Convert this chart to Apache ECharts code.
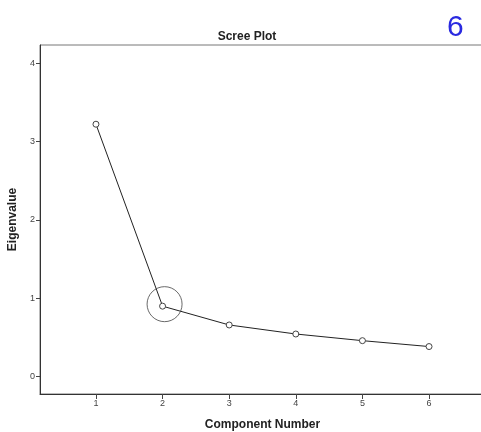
<!DOCTYPE html>
<html><head><meta charset="utf-8">
<script src="https://cdn.jsdelivr.net/npm/echarts@6/dist/echarts.min.js"></script>
<style>html,body{margin:0;padding:0;background:#fff}#c{width:481px;height:432px}</style>
</head><body><div id="c"></div>
<script>
var components = [1, 2, 3, 4, 5, 6];
var eigenvalues = [3.22, 0.90, 0.66, 0.545, 0.46, 0.385];
var xTicks = [1, 2, 3, 4, 5, 6];
var yTicks = [0, 1, 2, 3, 4];
var circledComponent = 2;

var chart = echarts.init(document.getElementById('c'));
var font = 'Liberation Sans, Arial, sans-serif';
chart.setOption({
  animation: false,
  backgroundColor: '#ffffff',
  title: [
    {text: 'Scree Plot', left: 242, top: 26, textAlign: 'center',
     textStyle: {fontFamily: font, fontSize: 12, fontWeight: 'bold', color: '#222'}},
    {text: '6', left: 442, top: 8,
     textStyle: {fontFamily: font, fontSize: 30, fontWeight: 'normal', color: '#2a2ae0'}}
  ],
  grid: {left: 40, top: 45, right: -4, bottom: 38, show: true, borderColor: '#777', borderWidth: 1,
         backgroundColor: 'transparent', containLabel: false, outerBoundsMode: 'none'},
  xAxis: {
    type: 'value', min: 0.16, max: 6.84,
    name: 'Component Number', nameLocation: 'middle', nameGap: 25,
    nameTextStyle: {fontFamily: font, fontSize: 12, fontWeight: 'bold', color: '#222'},
    axisLine: {show: true, onZero: false, lineStyle: {color: '#333', width: 1}},
    axisTick: {show: true, length: 5, lineStyle: {color: '#444'}, customValues: xTicks},
    axisLabel: {fontFamily: font, fontSize: 9, color: '#444', margin: 5, customValues: xTicks},
    splitLine: {show: false}
  },
  yAxis: {
    type: 'value', min: -0.22, max: 4.23,
    name: 'Eigenvalue', nameLocation: 'middle', nameGap: 19,
    nameTextStyle: {fontFamily: font, fontSize: 12, fontWeight: 'bold', color: '#222'},
    axisLine: {show: true, onZero: false, lineStyle: {color: '#333', width: 1}},
    axisTick: {show: true, length: 4, lineStyle: {color: '#444'}, customValues: yTicks},
    axisLabel: {fontFamily: font, fontSize: 9, color: '#444', margin: 5, customValues: yTicks},
    splitLine: {show: false}
  },
  series: [
    {
      type: 'line',
      data: components.map(function (c, i) { return [c, eigenvalues[i]]; }),
      symbol: 'circle', symbolSize: 6,
      lineStyle: {color: '#222', width: 1},
      itemStyle: {color: '#ffffff', borderColor: '#444', borderWidth: 1}
    },
    {
      type: 'scatter',
      data: [[circledComponent, eigenvalues[components.indexOf(circledComponent)]]],
      symbol: 'circle', symbolSize: 35, symbolOffset: [2, -2],
      itemStyle: {color: 'rgba(0,0,0,0)', borderColor: '#444', borderWidth: 1},
      z: 5,
      silent: true
    }
  ]
});
</script>
</body></html>
